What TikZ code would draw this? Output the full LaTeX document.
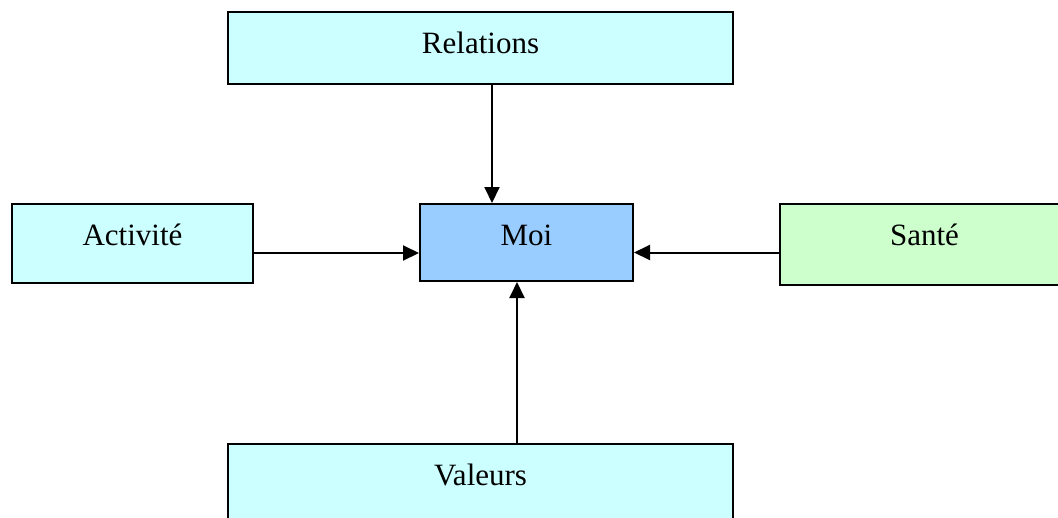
\documentclass[tikz,border=0pt]{standalone}
\usepackage{fontspec}
\setmainfont{Liberation Serif}
\usetikzlibrary{arrows.meta,calc}
\definecolor{cyanbox}{HTML}{CCFFFF}
\definecolor{bluebox}{HTML}{99CCFF}
\definecolor{greenbox}{HTML}{CCFFCC}
\tikzset{
  box/.style={draw=black, line width=2pt, anchor=north west, inner xsep=0pt, inner ysep=0pt,
    text height=41.5pt, font=\fontsize{31}{36}\selectfont},
  arr/.style={draw=black, line width=2pt, -{Triangle[length=16pt,width=15pt]}}
}
\begin{document}
\begin{tikzpicture}[x=1pt,y=-1pt]
\path[use as bounding box] (0,0) rectangle (1058,517);
\clip (0,0) rectangle (1058,517);
\fill[white] (0,0) rectangle (1058,517);
\node[box, fill=cyanbox, minimum width=505pt, text depth=30.5pt] (Relations) at (227,11) {Relations};
\node[box, fill=cyanbox, minimum width=241pt, text depth=37.5pt] (Activite) at (11,203) {Activité};
\node[box, fill=bluebox, minimum width=213pt, text depth=35.5pt] (Moi) at (419,203) {Moi};
\node[box, fill=greenbox, minimum width=289pt, text depth=39.5pt] (Sante) at (779,203) {Santé};
\node[box, fill=cyanbox, minimum width=505pt, text depth=44pt] (Valeurs) at (227,443) {Valeurs};
\coordinate (rs) at ($(Relations.south)+(11.5,0)$);
\coordinate (ae) at ($(Activite.east)+(0,9.5)$);
\coordinate (sw) at ($(Sante.west)+(0,8)$);
\coordinate (vn) at ($(Valeurs.north)+(36.5,0)$);
\draw[arr] (rs) -- (rs |- Moi.north);
\draw[arr] (ae) -- (ae -| Moi.west);
\draw[arr] (sw) -- (sw -| Moi.east);
\draw[arr] (vn) -- (vn |- Moi.south);
\end{tikzpicture}
\end{document}
